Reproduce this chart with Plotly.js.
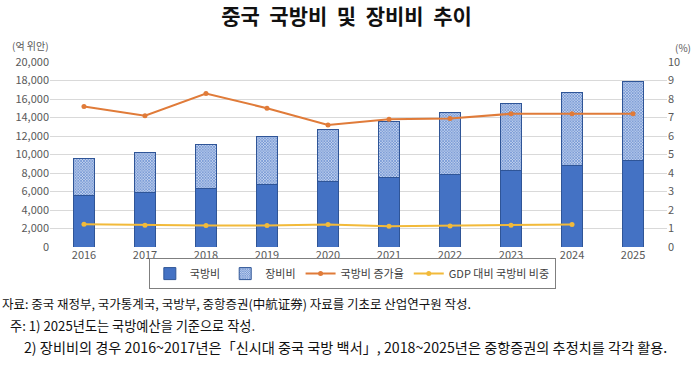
<!DOCTYPE html>
<html><head><meta charset="utf-8">
<script src="https://cdn.plot.ly/plotly-3.0.1.min.js"></script>
<style>html,body{margin:0;padding:0;background:#fff}#chart{width:700px;height:366px}</style>
</head><body><div id="chart"></div>
<script>
const years = ['2016','2017','2018','2019','2020','2021','2022','2023','2024','2025'];
const defenseBase = [5530, 5930, 6370, 6770, 7130, 7530, 7890, 8320, 8830, 9300];
const equipment = [4010, 4300, 4730, 5130, 5570, 6050, 6610, 7220, 7830, 8550];
const growthRate = [7.6, 7.1, 8.3, 7.5, 6.6, 6.9, 6.95, 7.2, 7.2, 7.2];
const gdpShare = [1.23, 1.18, 1.16, 1.16, 1.21, 1.12, 1.14, 1.18, 1.22, null];
const leftTicks = [0,2000,4000,6000,8000,10000,12000,14000,16000,18000,20000];
const leftTickText = ['0','2,000','4,000','6,000','8,000','10,000','12,000','14,000','16,000','18,000','20,000'];
const rightTicks = [0,1,2,3,4,5,6,7,8,9,10];

const FONT = '"Noto Sans CJK KR", "Noto Sans", sans-serif';
const traces = [
  {type:'bar', name:'국방비', x:years, y:defenseBase, yaxis:'y',
   marker:{color:'#4472C4', line:{color:'#2F5597', width:1}}, width:0.34},
  {type:'bar', name:'장비비', x:years, y:equipment, yaxis:'y',
   marker:{color:'#ffffff', line:{color:'#2F5597', width:1},
     pattern:{shape:'x', size:2, solidity:0.45, fgcolor:'#4472C4', bgcolor:'#c4d3ee'}}, width:0.34},
  {type:'scatter', mode:'lines+markers', name:'국방비 증가율', x:years, y:growthRate, yaxis:'y2',
   line:{color:'#E07B39', width:2}, marker:{color:'#E07B39', size:5}},
  {type:'scatter', mode:'lines+markers', name:'GDP 대비 국방비 비중', x:years, y:gdpShare, yaxis:'y2',
   line:{color:'#F2BA3A', width:2}, marker:{color:'#F2BA3A', size:5}}
];
const layout = {
  width:700, height:366, barmode:'stack',
  margin:{l:50, r:33, t:62, b:119},
  paper_bgcolor:'#fff', plot_bgcolor:'#fff',
  font:{family:FONT, color:'#595959', size:11},
  title:{text:'<b>중국  국방비  및  장비비  추이</b>', x:0.495, xanchor:'center', y:0.955, yanchor:'middle',
    font:{family:FONT, size:21, color:'#111'}},
  xaxis:{type:'category', showgrid:false, showline:false, ticks:'', tickfont:{size:11, color:'#595959'}},
  yaxis:{range:[0,20000], tickvals:leftTicks, ticktext:leftTickText, showgrid:true, gridcolor:'#d9d9d9',
    zeroline:false, showline:false, ticks:'', tickfont:{size:11, color:'#595959'}},
  yaxis2:{range:[0,10], tickvals:rightTicks, overlaying:'y', side:'right', showgrid:false, zeroline:false,
    showline:false, ticks:'', tickfont:{size:11, color:'#595959'}},
  showlegend:true,
  legend:{orientation:'h', x:0.49, xanchor:'center', y:-0.06, yanchor:'top',
    bordercolor:'#7f7f7f', borderwidth:1, font:{size:11, color:'#404040'}, tracegroupgap:0,
    traceorder:'normal'},
  annotations:[
    {text:'(억 위안)', xref:'paper', yref:'paper', x:-0.065, y:1.09, xanchor:'left', yanchor:'middle', showarrow:false, font:{size:10, color:'#595959'}},
    {text:'(%)', xref:'paper', yref:'paper', x:1.01, y:1.08, xanchor:'left', yanchor:'middle', showarrow:false, font:{size:10, color:'#595959'}},
    {text:'자료: 중국 재정부, 국가통계국, 국방부, 중항증권(中航证券) 자료를 기초로 산업연구원 작성.', xref:'paper', yref:'paper', x:-0.081, y:-0.305, xanchor:'left', yanchor:'middle', showarrow:false, font:{size:12.5, color:'#111'}},
    {text:'주: 1) 2025년도는 국방예산을 기준으로 작성.', xref:'paper', yref:'paper', x:-0.068, y:-0.425, xanchor:'left', yanchor:'middle', showarrow:false, font:{size:13.2, color:'#111'}},
    {text:'2) 장비비의 경우 2016~2017년은「신시대 중국 국방 백서」, 2018~2025년은 중항증권의 추정치를 각각 활용.', xref:'paper', yref:'paper', x:-0.045, y:-0.54, xanchor:'left', yanchor:'middle', showarrow:false, font:{size:14.2, color:'#111'}}
  ]
};
Plotly.newPlot('chart', traces, layout, {displayModeBar:false, staticPlot:true});
</script></body></html>
